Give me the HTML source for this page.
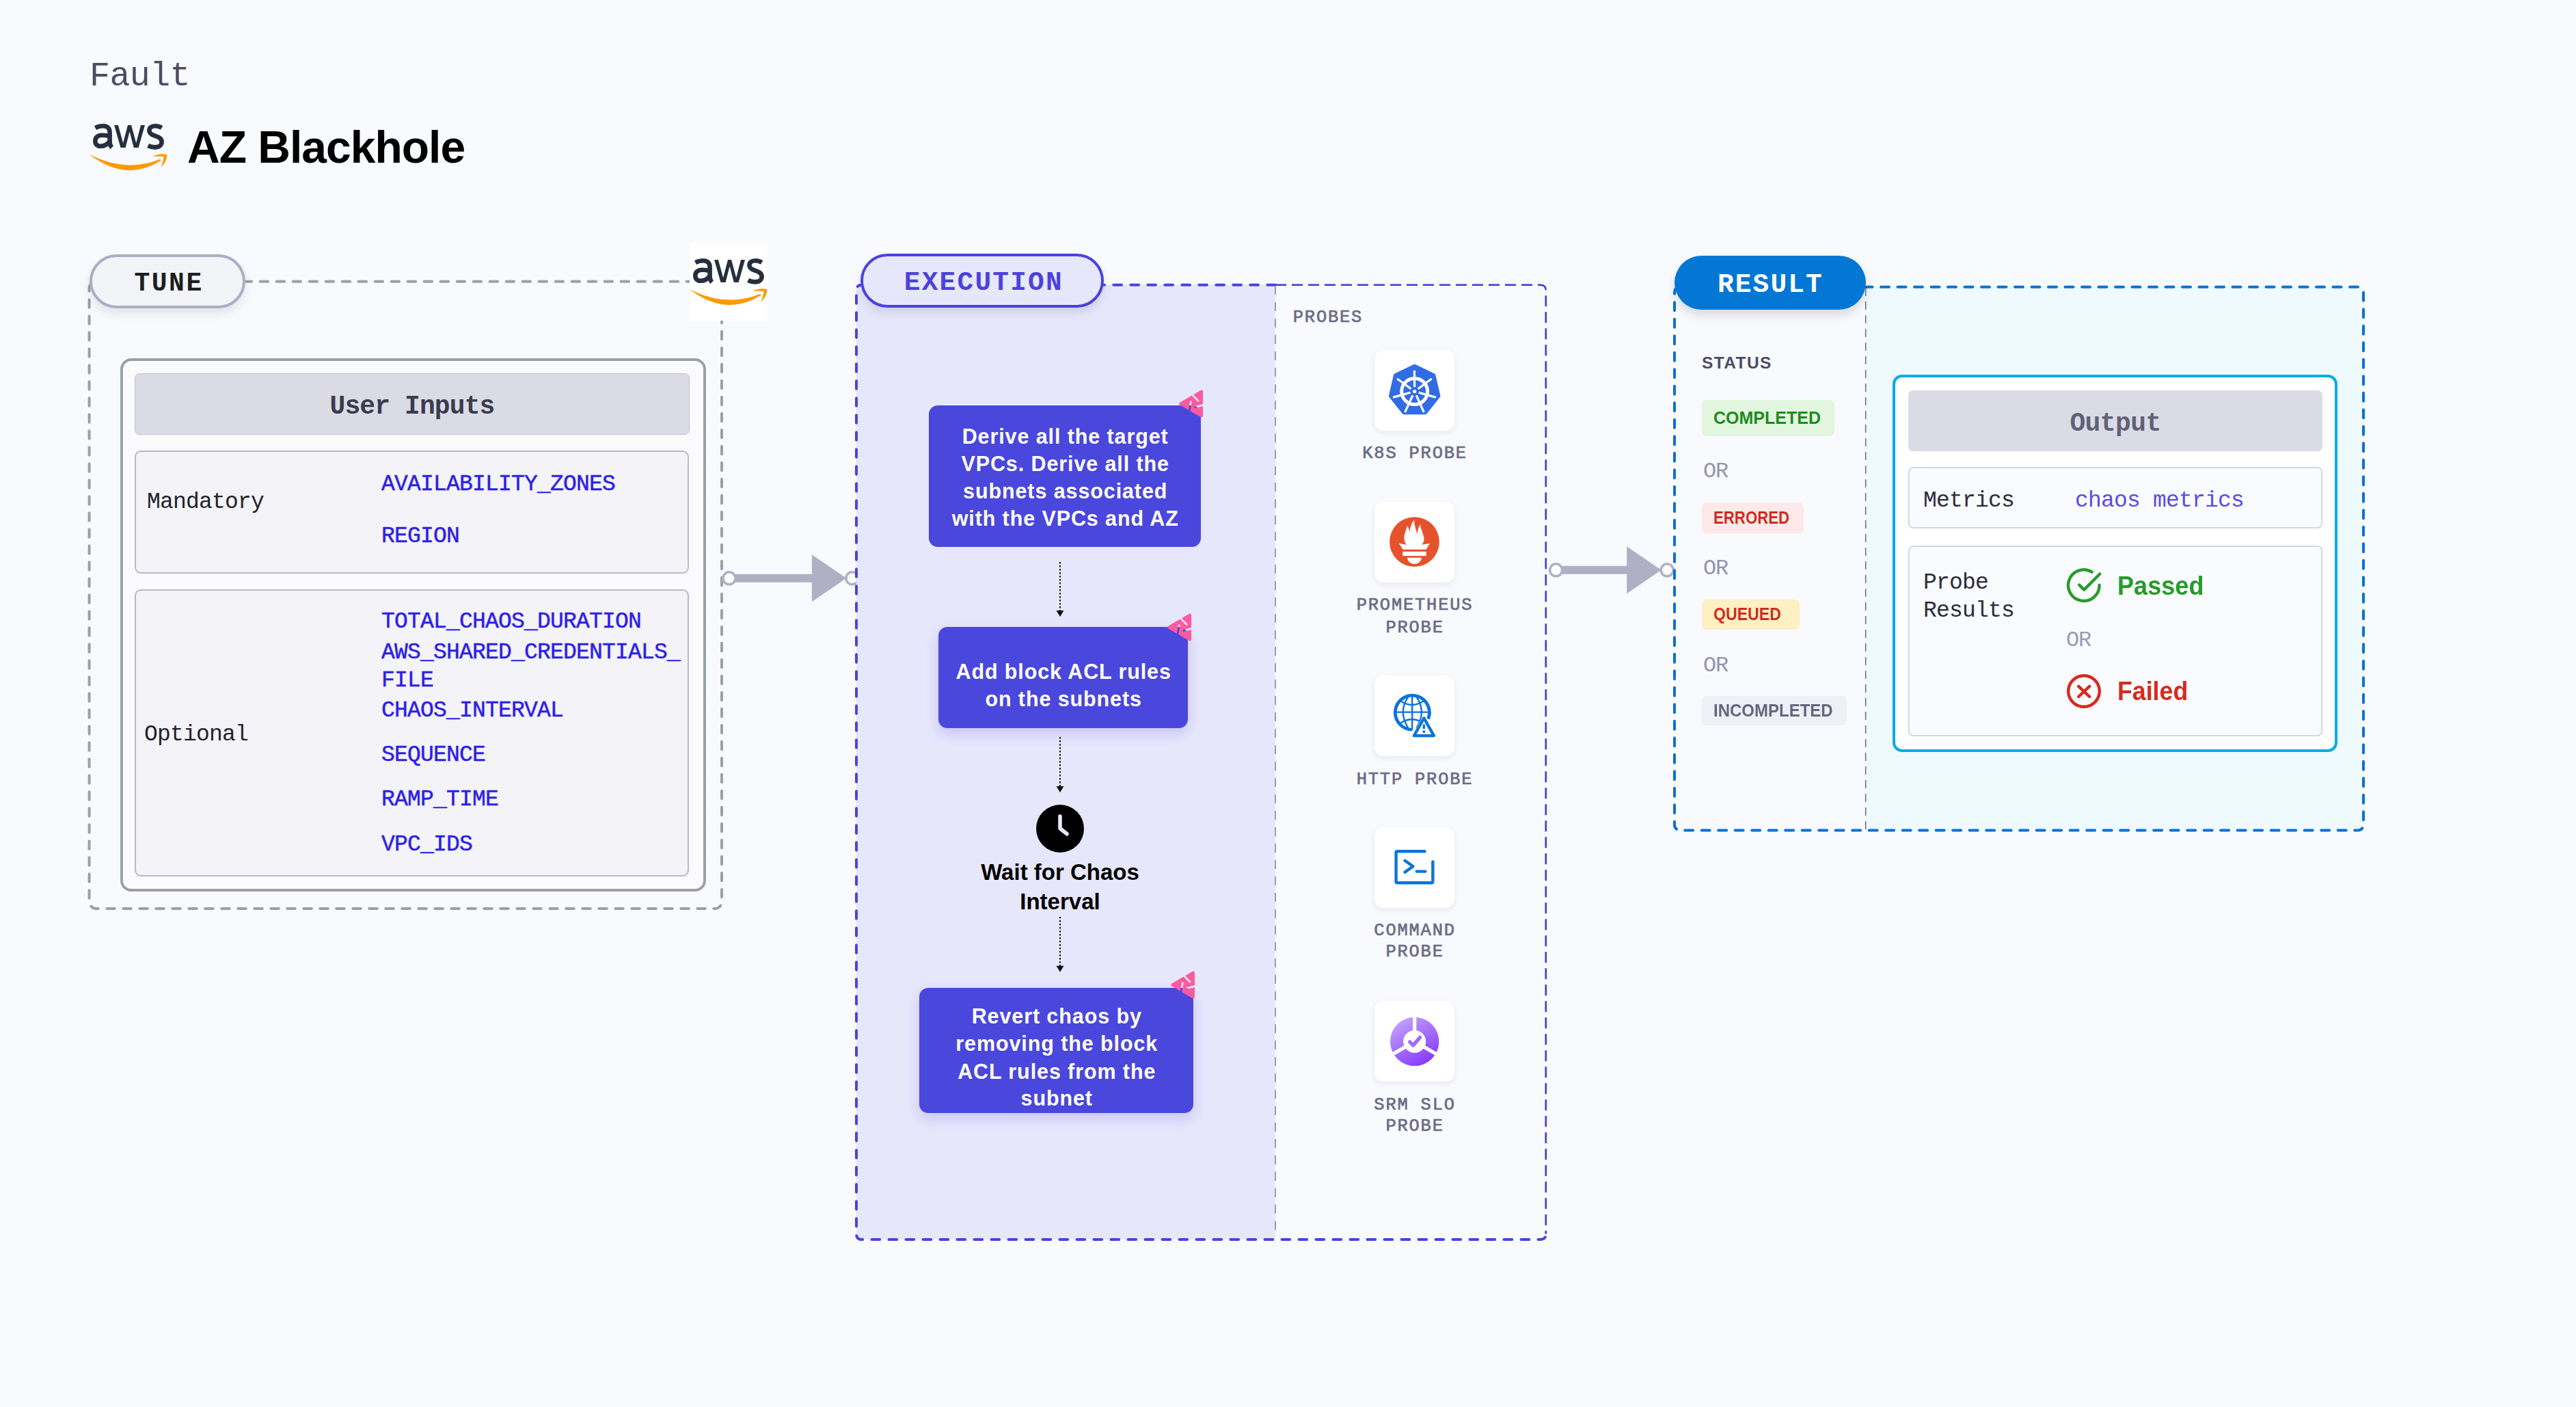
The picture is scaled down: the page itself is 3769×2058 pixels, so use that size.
<!DOCTYPE html>
<html><head><meta charset="utf-8"><style>
html,body{margin:0;padding:0;}
body{width:3769px;height:2058px;position:relative;overflow:hidden;background:#f9fafd;font-family:'Liberation Sans', sans-serif;}
</style></head><body>
<svg width="3769" height="2058" style="position:absolute;left:0;top:0">
<rect x="130.60" y="411.80" width="925.40" height="917.20" rx="10" fill="none" stroke="#9ba0a8" stroke-width="4" stroke-dasharray="11.5 12.5" stroke-linecap="round"/><line x1="1075.90" y1="845.80" x2="1188.90" y2="845.80" stroke="#b0b0c5" stroke-width="12"/><polygon points="1187.90,811.30 1238.40,845.80 1187.90,880.30" fill="#b0b0c5"/><circle cx="1066.90" cy="845.80" r="9" fill="#fff" stroke="#b0b0c5" stroke-width="3.6"/><circle cx="1246.90" cy="845.80" r="9" fill="#fff" stroke="#b0b0c5" stroke-width="3.6"/><rect x="1253" y="416.8" width="613" height="1396" fill="#e7e7fc"/><path d="M1866,416.8 L1261,416.8 Q1253,416.8 1253,424.8 L1253,1805 Q1253,1813 1261,1813 L2253.8,1813 Q2261.8,1813 2261.8,1805" fill="none" stroke="#4a43de" stroke-width="4" stroke-dasharray="11.7 13.3" stroke-linecap="round"/><path d="M1866,416.8 L2253.8,416.8 Q2261.8,416.8 2261.8,424.8 L2261.8,1805" fill="none" stroke="#4038de" stroke-width="2.6" stroke-dasharray="16 8"/><line x1="1866" y1="418" x2="1866" y2="1806" stroke="#9c9cac" stroke-width="2" stroke-dasharray="13 11"/><line x1="1551" y1="822" x2="1551" y2="895" stroke="#111" stroke-width="2" stroke-dasharray="2.5 2.5"/><polygon points="1545.5,893 1556.5,893 1551,902" fill="#111"/><line x1="1551" y1="1078" x2="1551" y2="1152" stroke="#111" stroke-width="2" stroke-dasharray="2.5 2.5"/><polygon points="1545.5,1150 1556.5,1150 1551,1159" fill="#111"/><line x1="1551" y1="1341" x2="1551" y2="1414.7" stroke="#111" stroke-width="2" stroke-dasharray="2.5 2.5"/><polygon points="1545.5,1412.7 1556.5,1412.7 1551,1421.7" fill="#111"/><line x1="2285.60" y1="833.80" x2="2381.20" y2="833.80" stroke="#b0b0c5" stroke-width="12"/><polygon points="2380.20,799.30 2430.70,833.80 2380.20,868.30" fill="#b0b0c5"/><circle cx="2276.60" cy="833.80" r="9" fill="#fff" stroke="#b0b0c5" stroke-width="3.6"/><circle cx="2439.20" cy="833.80" r="9" fill="#fff" stroke="#b0b0c5" stroke-width="3.6"/><rect x="2729.7" y="419.8" width="728.3" height="794.7" fill="#effafe"/><rect x="2450.00" y="419.80" width="1008.00" height="794.70" rx="8" fill="none" stroke="#0a72d1" stroke-width="4" stroke-dasharray="12 12.5" stroke-linecap="round"/><line x1="2729.7" y1="421" x2="2729.7" y2="1213" stroke="#6f7088" stroke-width="1.6" stroke-dasharray="12 8"/>
</svg>
<div style="position:absolute;left:131.00px;top:86.90px;font-family:'Liberation Mono', monospace;font-size:50px;line-height:50px;color:#4d4c63;font-weight:400;letter-spacing:-0.6px;white-space:pre;">Fault</div><svg style="position:absolute;left:125.00px;top:175.00px" width="125.00" height="80.00" viewBox="0 0 125 80">
<g fill="none" stroke="#252f3e" stroke-width="6.6">
<path d="M14.5,12.2 C18.5,10 22.5,9.3 26,9.3 C32,9.3 35.6,12.5 35.6,19 L35.6,33 C35.6,36 36.6,38.6 38.8,40.6"/>
<path d="M35.6,24.2 C32,23.2 28,22.7 24.5,22.7 C17.5,22.7 14.3,26.5 14.3,31.5 C14.3,36.2 17.6,38.8 22.2,38.8 C27.2,38.8 32,36.5 35.6,31.5"/>

<path d="M111.6,12 C108.5,10 105,9.2 102,9.2 C96.5,9.2 93.4,12 93.4,16 C93.4,19.8 96,21.8 101,23.4 C107,25.4 111.6,27.2 111.6,32.5 C111.6,37.6 107.6,40.4 101.6,40.4 C98,40.4 94.6,39.6 91.6,38"/>
</g>
<polygon fill="#252f3e" points="42.1,8 47.9,8 55.1,34.2 62,8 67.1,8 74.2,34.2 81,8 87,8 77.6,41 70.8,41 64.6,17.5 58.6,41 51.5,41"/>
<path fill="#ff9900" d="M6.5,51.3 Q60,78 109.5,57.8 L110.5,59.8 Q60,92 6.5,51.6 Z"/>
<path fill="#ff9900" d="M98,54.2 C104,50.3 113,49.4 119.2,51 C119.6,57 116.3,64 110.6,69.8 C112.6,63.5 114.2,58.5 114.6,54.3 C109,53.2 103,53.4 98,54.2 Z"/>
</svg><div style="position:absolute;left:274.00px;top:181.82px;font-family:'Liberation Sans', sans-serif;font-size:66px;line-height:66px;color:#000;font-weight:700;letter-spacing:-1.0px;white-space:pre;">AZ Blackhole</div><div style="position:absolute;left:175.50px;top:524.00px;width:857.50px;height:780.00px;box-sizing:border-box;border:4px solid #9ba0a8;border-radius:16px;background:#fbfbfe;"></div><div style="position:absolute;left:197.00px;top:546.00px;width:812.00px;height:90.00px;box-sizing:border-box;border:1.5px solid #c3c3d3;border-radius:7px;background:#dbdbe5;"></div><div style="position:absolute;left:-397.00px;width:2000px;text-align:center;top:575.89px;font-family:'Liberation Mono', monospace;font-size:38px;line-height:38px;color:#3b3b4f;font-weight:700;letter-spacing:-0.9px;white-space:pre;padding-left:-0.90px;">User Inputs</div><div style="position:absolute;left:197.00px;top:659.00px;width:811.00px;height:179.50px;box-sizing:border-box;border:2px solid #b8b8cc;border-radius:9px;background:#f3f3f8;"></div><div style="position:absolute;left:215.00px;top:718.22px;font-family:'Liberation Mono', monospace;font-size:33px;line-height:33px;color:#22222a;font-weight:400;letter-spacing:-0.8px;white-space:pre;">Mandatory</div><div style="position:absolute;left:558.00px;top:692.32px;font-family:'Liberation Mono', monospace;font-size:33px;line-height:33px;color:#2e1fe6;font-weight:400;letter-spacing:-0.8px;white-space:pre;-webkit-text-stroke:0.5px #2e1fe6;">AVAILABILITY_ZONES</div><div style="position:absolute;left:558.00px;top:768.32px;font-family:'Liberation Mono', monospace;font-size:33px;line-height:33px;color:#2e1fe6;font-weight:400;letter-spacing:-0.8px;white-space:pre;-webkit-text-stroke:0.5px #2e1fe6;">REGION</div><div style="position:absolute;left:197.00px;top:861.50px;width:811.00px;height:420.50px;box-sizing:border-box;border:2px solid #b8b8cc;border-radius:9px;background:#f3f3f8;"></div><div style="position:absolute;left:211.00px;top:1057.72px;font-family:'Liberation Mono', monospace;font-size:33px;line-height:33px;color:#22222a;font-weight:400;letter-spacing:-0.8px;white-space:pre;">Optional</div><div style="position:absolute;left:558.00px;top:892.82px;font-family:'Liberation Mono', monospace;font-size:33px;line-height:33px;color:#2e1fe6;font-weight:400;letter-spacing:-0.8px;white-space:pre;-webkit-text-stroke:0.5px #2e1fe6;">TOTAL_CHAOS_DURATION</div><div style="position:absolute;left:558.00px;top:937.92px;font-family:'Liberation Mono', monospace;font-size:33px;line-height:33px;color:#2e1fe6;font-weight:400;letter-spacing:-0.8px;white-space:pre;-webkit-text-stroke:0.5px #2e1fe6;">AWS_SHARED_CREDENTIALS_</div><div style="position:absolute;left:558.00px;top:978.82px;font-family:'Liberation Mono', monospace;font-size:33px;line-height:33px;color:#2e1fe6;font-weight:400;letter-spacing:-0.8px;white-space:pre;-webkit-text-stroke:0.5px #2e1fe6;">FILE</div><div style="position:absolute;left:558.00px;top:1022.62px;font-family:'Liberation Mono', monospace;font-size:33px;line-height:33px;color:#2e1fe6;font-weight:400;letter-spacing:-0.8px;white-space:pre;-webkit-text-stroke:0.5px #2e1fe6;">CHAOS_INTERVAL</div><div style="position:absolute;left:558.00px;top:1087.72px;font-family:'Liberation Mono', monospace;font-size:33px;line-height:33px;color:#2e1fe6;font-weight:400;letter-spacing:-0.8px;white-space:pre;-webkit-text-stroke:0.5px #2e1fe6;">SEQUENCE</div><div style="position:absolute;left:558.00px;top:1152.62px;font-family:'Liberation Mono', monospace;font-size:33px;line-height:33px;color:#2e1fe6;font-weight:400;letter-spacing:-0.8px;white-space:pre;-webkit-text-stroke:0.5px #2e1fe6;">RAMP_TIME</div><div style="position:absolute;left:558.00px;top:1218.52px;font-family:'Liberation Mono', monospace;font-size:33px;line-height:33px;color:#2e1fe6;font-weight:400;letter-spacing:-0.8px;white-space:pre;-webkit-text-stroke:0.5px #2e1fe6;">VPC_IDS</div><div style="position:absolute;left:131.00px;top:371.60px;width:227.70px;height:79.20px;box-sizing:border-box;border:4.5px solid #aeadc4;border-radius:40px;background:#f3f4f8;box-shadow:0 8px 14px rgba(40,40,70,0.10);"></div><div style="position:absolute;left:-755.40px;width:2000px;text-align:center;top:396.49px;font-family:'Liberation Mono', monospace;font-size:38px;line-height:38px;color:#1c1e21;font-weight:700;letter-spacing:2.5px;white-space:pre;padding-left:2.50px;">TUNE</div><div style="position:absolute;left:1009.10px;top:354.60px;width:114.20px;height:114.20px;box-sizing:border-box;background:#ffffff;"></div><svg style="position:absolute;left:1003.10px;top:372.00px" width="125.00" height="80.00" viewBox="0 0 125 80">
<g fill="none" stroke="#252f3e" stroke-width="6.6">
<path d="M14.5,12.2 C18.5,10 22.5,9.3 26,9.3 C32,9.3 35.6,12.5 35.6,19 L35.6,33 C35.6,36 36.6,38.6 38.8,40.6"/>
<path d="M35.6,24.2 C32,23.2 28,22.7 24.5,22.7 C17.5,22.7 14.3,26.5 14.3,31.5 C14.3,36.2 17.6,38.8 22.2,38.8 C27.2,38.8 32,36.5 35.6,31.5"/>

<path d="M111.6,12 C108.5,10 105,9.2 102,9.2 C96.5,9.2 93.4,12 93.4,16 C93.4,19.8 96,21.8 101,23.4 C107,25.4 111.6,27.2 111.6,32.5 C111.6,37.6 107.6,40.4 101.6,40.4 C98,40.4 94.6,39.6 91.6,38"/>
</g>
<polygon fill="#252f3e" points="42.1,8 47.9,8 55.1,34.2 62,8 67.1,8 74.2,34.2 81,8 87,8 77.6,41 70.8,41 64.6,17.5 58.6,41 51.5,41"/>
<path fill="#ff9900" d="M6.5,51.3 Q60,78 109.5,57.8 L110.5,59.8 Q60,92 6.5,51.6 Z"/>
<path fill="#ff9900" d="M98,54.2 C104,50.3 113,49.4 119.2,51 C119.6,57 116.3,64 110.6,69.8 C112.6,63.5 114.2,58.5 114.6,54.3 C109,53.2 103,53.4 98,54.2 Z"/>
</svg><div style="position:absolute;left:1258.50px;top:370.90px;width:356.50px;height:78.90px;box-sizing:border-box;border:4px solid #4a42dc;border-radius:40px;background:#e7e7fc;box-shadow:0 8px 14px rgba(40,40,90,0.12);"></div><div style="position:absolute;left:437.20px;width:2000px;text-align:center;top:393.74px;font-family:'Liberation Mono', monospace;font-size:39.5px;line-height:39.5px;color:#4a42dc;font-weight:700;letter-spacing:2.2px;white-space:pre;padding-left:2.20px;">EXECUTION</div><div style="position:absolute;left:1891.80px;top:451.56px;font-family:'Liberation Mono', monospace;font-size:25.5px;line-height:25.5px;color:#6b6c85;font-weight:400;letter-spacing:1.76px;white-space:pre;-webkit-text-stroke:0.7px #6b6c85;">PROBES</div><div style="position:absolute;left:1359.00px;top:593.00px;width:397.60px;height:207.40px;box-sizing:border-box;background:#4a47dc;border-radius:13px;"></div><div style="position:absolute;left:557.80px;width:2000px;text-align:center;top:623.28px;font-family:'Liberation Sans', sans-serif;font-size:30.5px;line-height:30.5px;color:#fff;font-weight:700;letter-spacing:0.9px;white-space:pre;padding-left:0.90px;">Derive all the target</div><div style="position:absolute;left:557.80px;width:2000px;text-align:center;top:663.18px;font-family:'Liberation Sans', sans-serif;font-size:30.5px;line-height:30.5px;color:#fff;font-weight:700;letter-spacing:0.9px;white-space:pre;padding-left:0.90px;">VPCs. Derive all the</div><div style="position:absolute;left:557.80px;width:2000px;text-align:center;top:702.98px;font-family:'Liberation Sans', sans-serif;font-size:30.5px;line-height:30.5px;color:#fff;font-weight:700;letter-spacing:0.9px;white-space:pre;padding-left:0.90px;">subnets associated</div><div style="position:absolute;left:557.80px;width:2000px;text-align:center;top:742.78px;font-family:'Liberation Sans', sans-serif;font-size:30.5px;line-height:30.5px;color:#fff;font-weight:700;letter-spacing:0.9px;white-space:pre;padding-left:0.90px;">with the VPCs and AZ</div><svg style="position:absolute;left:1723.70px;top:569.40px;overflow:visible" width="40" height="44" viewBox="0 0 40 44">
<defs><mask id="pm1759571" maskUnits="userSpaceOnUse" x="-5" y="-5" width="50" height="54"><rect x="-5" y="-5" width="50" height="54" fill="#fff"/>
<g stroke="#000" stroke-width="2.7" stroke-linecap="round"><line x1="19.6" y1="7.6" x2="29.2" y2="17.3"/><line x1="18.4" y1="18.5" x2="15.6" y2="34"/><line x1="24.6" y1="26.4" x2="38" y2="23.1"/></g></mask></defs>
<path mask="url(#pm1759571)" fill="#fd5b9c" stroke="#fd5b9c" stroke-width="4" stroke-linejoin="round" d="M3.2,21.5 L34,3.6 L34,39.4 Z"/>
</svg><div style="position:absolute;left:1373.00px;top:916.60px;width:364.50px;height:148.90px;box-sizing:border-box;background:#4a47dc;border-radius:13px;box-shadow:0 8px 20px rgba(80,70,230,0.22);"></div><div style="position:absolute;left:555.25px;width:2000px;text-align:center;top:967.18px;font-family:'Liberation Sans', sans-serif;font-size:30.5px;line-height:30.5px;color:#fff;font-weight:700;letter-spacing:0.9px;white-space:pre;padding-left:0.90px;">Add block ACL rules</div><div style="position:absolute;left:555.25px;width:2000px;text-align:center;top:1006.98px;font-family:'Liberation Sans', sans-serif;font-size:30.5px;line-height:30.5px;color:#fff;font-weight:700;letter-spacing:0.9px;white-space:pre;padding-left:0.90px;">on the subnets</div><svg style="position:absolute;left:1707.00px;top:895.80px;overflow:visible" width="40" height="44" viewBox="0 0 40 44">
<defs><mask id="pm1743897" maskUnits="userSpaceOnUse" x="-5" y="-5" width="50" height="54"><rect x="-5" y="-5" width="50" height="54" fill="#fff"/>
<g stroke="#000" stroke-width="2.7" stroke-linecap="round"><line x1="19.6" y1="7.6" x2="29.2" y2="17.3"/><line x1="18.4" y1="18.5" x2="15.6" y2="34"/><line x1="24.6" y1="26.4" x2="38" y2="23.1"/></g></mask></defs>
<path mask="url(#pm1743897)" fill="#fd5b9c" stroke="#fd5b9c" stroke-width="4" stroke-linejoin="round" d="M3.2,21.5 L34,3.6 L34,39.4 Z"/>
</svg><svg style="position:absolute;left:1511px;top:1171.7px" width="80" height="80" viewBox="0 0 80 80">
<circle cx="40" cy="40" r="35" fill="#000"/>
<path d="M40,22 L40,39.8 L50,47.8" fill="none" stroke="#e7e7fc" stroke-width="5.6" stroke-linecap="round" stroke-linejoin="round"/>
</svg><div style="position:absolute;left:551.00px;width:2000px;text-align:center;top:1259.06px;font-family:'Liberation Sans', sans-serif;font-size:33px;line-height:33px;color:#000;font-weight:700;letter-spacing:0px;white-space:pre;">Wait for Chaos</div><div style="position:absolute;left:551.00px;width:2000px;text-align:center;top:1301.56px;font-family:'Liberation Sans', sans-serif;font-size:33px;line-height:33px;color:#000;font-weight:700;letter-spacing:0px;white-space:pre;">Interval</div><div style="position:absolute;left:1345.00px;top:1444.80px;width:400.70px;height:183.70px;box-sizing:border-box;background:#4a47dc;border-radius:13px;box-shadow:0 8px 20px rgba(80,70,230,0.22);"></div><div style="position:absolute;left:545.35px;width:2000px;text-align:center;top:1471.18px;font-family:'Liberation Sans', sans-serif;font-size:30.5px;line-height:30.5px;color:#fff;font-weight:700;letter-spacing:0.9px;white-space:pre;padding-left:0.90px;">Revert chaos by</div><div style="position:absolute;left:545.35px;width:2000px;text-align:center;top:1511.48px;font-family:'Liberation Sans', sans-serif;font-size:30.5px;line-height:30.5px;color:#fff;font-weight:700;letter-spacing:0.9px;white-space:pre;padding-left:0.90px;">removing the block</div><div style="position:absolute;left:545.35px;width:2000px;text-align:center;top:1551.88px;font-family:'Liberation Sans', sans-serif;font-size:30.5px;line-height:30.5px;color:#fff;font-weight:700;letter-spacing:0.9px;white-space:pre;padding-left:0.90px;">ACL rules from the</div><div style="position:absolute;left:545.35px;width:2000px;text-align:center;top:1591.18px;font-family:'Liberation Sans', sans-serif;font-size:30.5px;line-height:30.5px;color:#fff;font-weight:700;letter-spacing:0.9px;white-space:pre;padding-left:0.90px;">subnet</div><svg style="position:absolute;left:1712.00px;top:1418.60px;overflow:visible" width="40" height="44" viewBox="0 0 40 44">
<defs><mask id="pm17481420" maskUnits="userSpaceOnUse" x="-5" y="-5" width="50" height="54"><rect x="-5" y="-5" width="50" height="54" fill="#fff"/>
<g stroke="#000" stroke-width="2.7" stroke-linecap="round"><line x1="19.6" y1="7.6" x2="29.2" y2="17.3"/><line x1="18.4" y1="18.5" x2="15.6" y2="34"/><line x1="24.6" y1="26.4" x2="38" y2="23.1"/></g></mask></defs>
<path mask="url(#pm17481420)" fill="#fd5b9c" stroke="#fd5b9c" stroke-width="4" stroke-linejoin="round" d="M3.2,21.5 L34,3.6 L34,39.4 Z"/>
</svg><div style="position:absolute;left:2011.00px;top:512.00px;width:117.20px;height:117.70px;box-sizing:border-box;background:#fff;border-radius:13px;box-shadow:0 3px 8px rgba(30,30,60,0.08);"><svg style="position:absolute;left:0;top:0" width="117" height="118" viewBox="0 0 117 118">
<polygon points="58.70,23.70 86.53,37.10 93.41,67.22 74.15,91.37 43.25,91.37 23.99,67.22 30.87,37.10" fill="#326ce5" stroke="#326ce5" stroke-width="6" stroke-linejoin="round"/>
<g stroke="#fff" stroke-linecap="round" fill="none">
<circle cx="58.7" cy="60.5" r="19" stroke-width="5"/>
<g stroke-width="3.2">
<line x1="58.7" y1="60.5" x2="58.5" y2="31"/>
<line x1="58.7" y1="60.5" x2="82.7" y2="42.7"/>
<line x1="58.7" y1="60.5" x2="88.7" y2="68.9"/>
<line x1="58.7" y1="60.5" x2="71.9" y2="89.9"/>
<line x1="58.7" y1="60.5" x2="45.1" y2="89.9"/>
<line x1="58.7" y1="60.5" x2="28.3" y2="68.9"/>
<line x1="58.7" y1="60.5" x2="34.3" y2="42.7"/>
</g></g>
<circle cx="58.7" cy="60.5" r="6.5" fill="#326ce5"/>
<circle cx="58.7" cy="60.5" r="2.6" fill="#fff"/>
</svg></div><div style="position:absolute;left:1068.30px;width:2000px;text-align:center;top:651.46px;font-family:'Liberation Mono', monospace;font-size:25.5px;line-height:25.5px;color:#6b6c85;font-weight:400;letter-spacing:1.76px;white-space:pre;padding-left:1.76px;-webkit-text-stroke:0.7px #6b6c85;">K8S PROBE</div><div style="position:absolute;left:2011.00px;top:734.20px;width:117.20px;height:117.70px;box-sizing:border-box;background:#fff;border-radius:13px;box-shadow:0 3px 8px rgba(30,30,60,0.08);"><svg style="position:absolute;left:0;top:0" width="117" height="118" viewBox="0 0 117 118">
<circle cx="58.5" cy="58.6" r="36.4" fill="#e6522c"/>
<g fill="#fff">
<path d="M35.8,60.7 L46.9,62.7 C43,58 42.5,52 44.5,46 C45.5,42 47.5,38 47.7,34.9 C50,37.5 51,41 51.4,44.5 C52.5,37 54.5,30 58.2,26.6 C58,34 61,41 62.5,47.4 C63,41 65,36 67,33.2 C67.5,39 71,45 72.4,51.9 C73,56 71.5,60 69.6,62.7 L81,60.7 L75.6,69.8 L41.7,69.8 Z"/>
<rect x="41.3" y="72.8" width="34.4" height="6.3"/>
<path d="M48,81.8 L69,81.8 A10.5,9.1 0 0 1 48,81.8 Z"/>
</g></svg></div><div style="position:absolute;left:1068.30px;width:2000px;text-align:center;top:873.46px;font-family:'Liberation Mono', monospace;font-size:25.5px;line-height:25.5px;color:#6b6c85;font-weight:400;letter-spacing:1.76px;white-space:pre;padding-left:1.76px;-webkit-text-stroke:0.7px #6b6c85;">PROMETHEUS</div><div style="position:absolute;left:1068.30px;width:2000px;text-align:center;top:905.96px;font-family:'Liberation Mono', monospace;font-size:25.5px;line-height:25.5px;color:#6b6c85;font-weight:400;letter-spacing:1.76px;white-space:pre;padding-left:1.76px;-webkit-text-stroke:0.7px #6b6c85;">PROBE</div><div style="position:absolute;left:2011.00px;top:988.00px;width:117.20px;height:117.70px;box-sizing:border-box;background:#fff;border-radius:13px;box-shadow:0 3px 8px rgba(30,30,60,0.08);"><svg style="position:absolute;left:0;top:0" width="117" height="118" viewBox="0 0 117 118">
<defs><clipPath id="gclip"><path d="M0,0 H117 V118 H0 Z M72.4,56.5 L53.5,91.5 L91.5,91.5 Z" clip-rule="evenodd"/></clipPath></defs>
<g fill="none" stroke="#0b74da">
<path d="M55.4,79.2 A25,25 0 1 1 78.6,63.5" stroke-width="4.8"/>
<g stroke-width="2.4" clip-path="url(#gclip)">
<line x1="55.2" y1="29.5" x2="55.2" y2="79"/>
<line x1="30.5" y1="53.6" x2="80" y2="53.6"/>
<path d="M38.5,37.5 Q54.8,48.5 71.5,37.5"/>
<path d="M38.5,69.2 Q54.8,59.2 71.5,69.2"/>
<path d="M49.9,30.5 Q34,52.3 49.3,76.8"/>
<path d="M60.9,30.5 Q76.6,52.3 61.5,76.8"/>
</g>
<path d="M72.4,62.4 L57.9,88.1 L87,88.1 Z" stroke-width="4.3" stroke-linejoin="round"/>
<line x1="72.4" y1="71.5" x2="72.4" y2="78" stroke-width="3.4"/>
<circle cx="72.4" cy="82.2" r="2" fill="#0b74da" stroke="none"/>
</g></svg></div><div style="position:absolute;left:1068.30px;width:2000px;text-align:center;top:1128.06px;font-family:'Liberation Mono', monospace;font-size:25.5px;line-height:25.5px;color:#6b6c85;font-weight:400;letter-spacing:1.76px;white-space:pre;padding-left:1.76px;-webkit-text-stroke:0.7px #6b6c85;">HTTP PROBE</div><div style="position:absolute;left:2011.00px;top:1210.00px;width:117.20px;height:117.70px;box-sizing:border-box;background:#fff;border-radius:13px;box-shadow:0 3px 8px rgba(30,30,60,0.08);"><svg style="position:absolute;left:0;top:0" width="117" height="118" viewBox="0 0 117 118">
<g fill="none" stroke="#0b74da" stroke-width="4.4" stroke-linecap="round" stroke-linejoin="round">
<path d="M73.5,35.3 L33.6,35.3 Q31.6,35.3 31.6,37.3 L31.6,79.3 Q31.6,81.3 33.6,81.3 L83.4,81.3 Q85.4,81.3 85.4,79.3 L85.4,50.5"/>
<path d="M44.6,48.8 L56.4,57.2 L44.6,65.6"/>
<line x1="61.8" y1="64.6" x2="74.4" y2="64.6"/>
</g></svg></div><div style="position:absolute;left:1068.30px;width:2000px;text-align:center;top:1349.46px;font-family:'Liberation Mono', monospace;font-size:25.5px;line-height:25.5px;color:#6b6c85;font-weight:400;letter-spacing:1.76px;white-space:pre;padding-left:1.76px;-webkit-text-stroke:0.7px #6b6c85;">COMMAND</div><div style="position:absolute;left:1068.30px;width:2000px;text-align:center;top:1380.46px;font-family:'Liberation Mono', monospace;font-size:25.5px;line-height:25.5px;color:#6b6c85;font-weight:400;letter-spacing:1.76px;white-space:pre;padding-left:1.76px;-webkit-text-stroke:0.7px #6b6c85;">PROBE</div><div style="position:absolute;left:2011.00px;top:1464.00px;width:117.20px;height:117.70px;box-sizing:border-box;background:#fff;border-radius:13px;box-shadow:0 3px 8px rgba(30,30,60,0.08);"><svg style="position:absolute;left:0;top:0" width="117" height="118" viewBox="0 0 117 118">
<defs><linearGradient id="srmg" x1="0.2" y1="0" x2="0.8" y2="1"><stop offset="0" stop-color="#c2a6fd"/><stop offset="1" stop-color="#8433fc"/></linearGradient>
<mask id="srmm" maskUnits="userSpaceOnUse" x="0" y="0" width="117" height="118"><rect width="117" height="118" fill="#fff"/>
<circle cx="58.7" cy="59.4" r="16.5" fill="#000"/>
<g stroke="#000" stroke-width="5.2"><line x1="58.7" y1="59.4" x2="58.7" y2="10"/><line x1="58.7" y1="59.4" x2="15.9" y2="84.1"/><line x1="58.7" y1="59.4" x2="101.5" y2="84.1"/></g>
</mask></defs>
<circle cx="58.7" cy="59.4" r="35.7" fill="url(#srmg)" mask="url(#srmm)"/>
<path d="M51.8,60.1 L56.6,64.9 L66.5,53.4" fill="none" stroke="#9f6afd" stroke-width="5.4" stroke-linecap="round" stroke-linejoin="round"/>
</svg></div><div style="position:absolute;left:1068.30px;width:2000px;text-align:center;top:1604.06px;font-family:'Liberation Mono', monospace;font-size:25.5px;line-height:25.5px;color:#6b6c85;font-weight:400;letter-spacing:1.76px;white-space:pre;padding-left:1.76px;-webkit-text-stroke:0.7px #6b6c85;">SRM SLO</div><div style="position:absolute;left:1068.30px;width:2000px;text-align:center;top:1635.26px;font-family:'Liberation Mono', monospace;font-size:25.5px;line-height:25.5px;color:#6b6c85;font-weight:400;letter-spacing:1.76px;white-space:pre;padding-left:1.76px;-webkit-text-stroke:0.7px #6b6c85;">PROBE</div><div style="position:absolute;left:2450.20px;top:374.00px;width:279.50px;height:78.90px;box-sizing:border-box;background:#0477d4;border-radius:40px;box-shadow:0 8px 14px rgba(20,40,80,0.15);"></div><div style="position:absolute;left:1588.30px;width:2000px;text-align:center;top:397.24px;font-family:'Liberation Mono', monospace;font-size:39.5px;line-height:39.5px;color:#fff;font-weight:700;letter-spacing:2.1px;white-space:pre;padding-left:2.10px;">RESULT</div><div style="position:absolute;left:2490.00px;top:519.36px;font-family:'Liberation Sans', sans-serif;font-size:24.5px;line-height:24.5px;color:#4b4c63;font-weight:700;letter-spacing:1.4px;white-space:pre;">STATUS</div><div style="position:absolute;left:2490.00px;top:585.00px;width:193.80px;height:52.80px;box-sizing:border-box;background:#e2f6df;border-radius:7px;"></div><div style="position:absolute;left:2507.00px;top:598.93px;font-family:'Liberation Sans', sans-serif;font-size:25px;line-height:25px;color:#1f8b1f;font-weight:700;letter-spacing:0px;white-space:pre;transform:scaleX(1.0);transform-origin:left;">COMPLETED</div><div style="position:absolute;left:2492.00px;top:673.98px;font-family:'Liberation Mono', monospace;font-size:32px;line-height:32px;color:#9394ad;font-weight:400;letter-spacing:-1.2px;white-space:pre;">OR</div><div style="position:absolute;left:2490.00px;top:735.00px;width:149.00px;height:45.00px;box-sizing:border-box;background:#fce9e9;border-radius:7px;"></div><div style="position:absolute;left:2507.00px;top:745.03px;font-family:'Liberation Sans', sans-serif;font-size:25px;line-height:25px;color:#d12a1f;font-weight:700;letter-spacing:0px;white-space:pre;transform:scaleX(0.889);transform-origin:left;">ERRORED</div><div style="position:absolute;left:2492.00px;top:815.98px;font-family:'Liberation Mono', monospace;font-size:32px;line-height:32px;color:#9394ad;font-weight:400;letter-spacing:-1.2px;white-space:pre;">OR</div><div style="position:absolute;left:2490.00px;top:877.00px;width:142.50px;height:43.50px;box-sizing:border-box;background:#fdf0c2;border-radius:7px;"></div><div style="position:absolute;left:2507.00px;top:886.28px;font-family:'Liberation Sans', sans-serif;font-size:25px;line-height:25px;color:#d12a1f;font-weight:700;letter-spacing:0px;white-space:pre;transform:scaleX(0.925);transform-origin:left;">QUEUED</div><div style="position:absolute;left:2492.00px;top:958.48px;font-family:'Liberation Mono', monospace;font-size:32px;line-height:32px;color:#9394ad;font-weight:400;letter-spacing:-1.2px;white-space:pre;">OR</div><div style="position:absolute;left:2490.00px;top:1017.70px;width:212.00px;height:43.30px;box-sizing:border-box;background:#efeff6;border-radius:7px;"></div><div style="position:absolute;left:2507.00px;top:1026.88px;font-family:'Liberation Sans', sans-serif;font-size:25px;line-height:25px;color:#65667e;font-weight:700;letter-spacing:0px;white-space:pre;transform:scaleX(0.96);transform-origin:left;">INCOMPLETED</div><div style="position:absolute;left:2769.20px;top:547.80px;width:650.60px;height:552.20px;box-sizing:border-box;border:4.5px solid #06ade2;border-radius:14px;background:#ffffff;"></div><div style="position:absolute;left:2792.00px;top:570.80px;width:606.00px;height:89.20px;box-sizing:border-box;border-radius:7px;background:#dbdbe5;"></div><div style="position:absolute;left:2095.00px;width:2000px;text-align:center;top:600.89px;font-family:'Liberation Mono', monospace;font-size:38px;line-height:38px;color:#606178;font-weight:700;letter-spacing:-0.6px;white-space:pre;padding-left:-0.60px;">Output</div><div style="position:absolute;left:2792.00px;top:683.40px;width:606.00px;height:89.40px;box-sizing:border-box;border:2px solid #d7d7e0;border-radius:7px;background:#fafbfe;"></div><div style="position:absolute;left:2814.00px;top:716.02px;font-family:'Liberation Mono', monospace;font-size:33px;line-height:33px;color:#2b2c3a;font-weight:400;letter-spacing:-0.8px;white-space:pre;">Metrics</div><div style="position:absolute;left:3036.00px;top:716.02px;font-family:'Liberation Mono', monospace;font-size:33px;line-height:33px;color:#5b4be6;font-weight:400;letter-spacing:-0.8px;white-space:pre;">chaos metrics</div><div style="position:absolute;left:2792.00px;top:797.80px;width:606.00px;height:279.70px;box-sizing:border-box;border:2px solid #d7d7e0;border-radius:7px;background:#fafbfe;"></div><div style="position:absolute;left:2814.00px;top:836.22px;font-family:'Liberation Mono', monospace;font-size:33px;line-height:33px;color:#2b2c3a;font-weight:400;letter-spacing:-0.8px;white-space:pre;">Probe</div><div style="position:absolute;left:2814.00px;top:877.12px;font-family:'Liberation Mono', monospace;font-size:33px;line-height:33px;color:#2b2c3a;font-weight:400;letter-spacing:-0.8px;white-space:pre;">Results</div><svg style="position:absolute;left:3018.5px;top:828.4px" width="60" height="60" viewBox="0 0 60 60">
<path d="M41.5,8.6 A22.8,22.8 0 1 0 52.6,27.6" fill="none" stroke="#279b2b" stroke-width="4.4" stroke-linecap="round"/>
<path d="M23.1,27.5 L30.2,34.6 L53.3,11.5" fill="none" stroke="#279b2b" stroke-width="4.4" stroke-linecap="round" stroke-linejoin="round"/>
</svg><div style="position:absolute;left:3098.20px;top:837.83px;font-family:'Liberation Sans', sans-serif;font-size:38px;line-height:38px;color:#279b2b;font-weight:700;letter-spacing:0px;white-space:pre;transform:scaleX(0.95);transform-origin:left;">Passed</div><div style="position:absolute;left:3023.00px;top:920.88px;font-family:'Liberation Mono', monospace;font-size:32px;line-height:32px;color:#9a9bb5;font-weight:400;letter-spacing:-1.2px;white-space:pre;">OR</div><svg style="position:absolute;left:3018.5px;top:980.7px" width="60" height="60" viewBox="0 0 60 60">
<circle cx="30" cy="30" r="22.8" fill="none" stroke="#d72a1e" stroke-width="4.4"/>
<path d="M22.2,22.9 L38.2,38 M38.2,22.9 L22.2,38" fill="none" stroke="#d72a1e" stroke-width="4.4" stroke-linecap="round"/>
</svg><div style="position:absolute;left:3098.20px;top:991.83px;font-family:'Liberation Sans', sans-serif;font-size:38px;line-height:38px;color:#d72a1e;font-weight:700;letter-spacing:0px;white-space:pre;transform:scaleX(0.94);transform-origin:left;">Failed</div>
</body></html>
